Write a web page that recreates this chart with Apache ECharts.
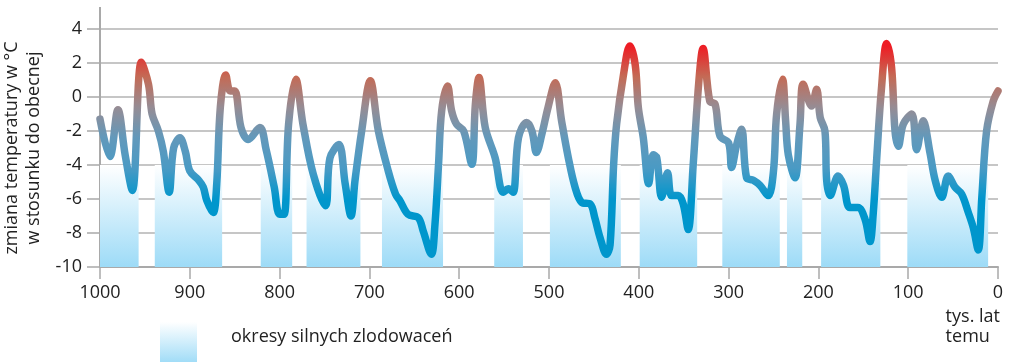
<!DOCTYPE html>
<html>
<head>
<meta charset="utf-8">
<script src="https://cdn.jsdelivr.net/npm/echarts@6/dist/echarts.min.js"></script>
<style>
  html, body { margin: 0; padding: 0; background: #ffffff; }
  #main { width: 1010px; height: 362px; }
</style>
</head>
<body>
<div id="main"></div>
<script>
// thousands of years ago
var years = [1000, 989, 980, 972, 964, 954, 946, 942, 935, 929.5, 923, 918, 911, 905, 900, 890, 885, 881, 874, 870,
    866, 860, 855, 850, 843, 835, 822, 815, 806, 800, 795, 790, 782, 774, 762.5, 749, 744, 734, 727, 720.5,
    716, 708.6, 699, 690, 679, 671, 666, 657, 645.5, 640, 631, 627, 623, 619.5, 613, 608.5, 603, 595, 586, 582,
    578, 571, 560, 551, 545, 540, 534, 525, 519, 514, 508, 501, 493, 486, 478.5, 471, 463.6, 454, 449, 443,
    436, 432, 428, 424.7, 417, 410, 404, 400.5, 395, 389, 384, 380, 374.6, 368, 363.5, 356, 350.5, 345, 339.4, 333,
    328.5, 321, 315, 309.6, 300, 296.7, 291, 285.5, 280, 272.5, 265, 256, 250, 246.5, 240, 236.5, 233.5, 226, 220.5, 217,
    207.6, 202, 198, 192.7, 190.8, 187, 178, 172, 165, 156, 148, 142.5, 139, 135, 130, 124, 118.5, 114.7, 111, 105.5,
    96, 90.6, 83.3, 75.7, 70, 62.7, 55.4, 48, 40.5, 33, 27.5, 22, 18, 12.7, 5.3, 0];

// temperature change vs. today, °C
var temps = [-1.3, -3.5, -0.75, -3.4, -5.5, 2.05, 0.75, -1.0, -2.0, -3.2, -5.6, -3.0, -2.4, -3.2, -4.35, -4.9, -5.3, -6.1, -6.8, -5.1,
    -0.6, 1.3, 0.35, 0.35, -1.8, -2.5, -1.8, -3.1, -5.3, -6.9, -6.9, -1.6, 1.05, -1.6, -4.55, -6.4, -3.6, -2.8, -5.1, -7.0,
    -4.9, -2.0, 0.95, -2.0, -4.35, -5.7, -6.1, -6.9, -7.1, -7.9, -9.25, -7.5, -3.96, -0.8, 0.65, -0.8, -1.6, -2.0, -3.96, -0.43,
    1.14, -1.8, -3.57, -5.6, -5.4, -5.6, -2.4, -1.5, -2.0, -3.27, -2.2, -0.6, 0.84, -1.4, -3.57, -5.3, -6.2, -6.3, -7.1, -8.3,
    -9.25, -8.7, -3.96, -1.6, 1.33, 3.0, 1.9, -0.63, -2.4, -5.1, -3.4, -3.57, -5.9, -4.45, -5.8, -5.8, -6.3, -7.8, -3.96, 1.0,
    2.85, -0.24, -0.43, -2.3, -2.7, -4.15, -2.8, -1.9, -4.75, -4.9, -5.2, -5.8, -4.35, -1.0, 1.05, -1.4, -3.4, -4.75, -1.6, 0.75,
    -0.53, 0.45, -1.2, -2.0, -4.9, -5.8, -4.65, -5.2, -6.5, -6.5, -7.2, -8.5, -6.9, -3.57, 0.35, 3.15, 1.73, -2.0, -2.9, -1.6,
    -1.0, -3.1, -1.4, -3.3, -4.9, -5.9, -4.65, -5.3, -5.7, -6.8, -7.7, -9.0, -5.9, -2.0, -0.24, 0.35];

// strong glaciation periods (start, end in thousands of years ago)
var glacialStart = [1000, 939, 821, 770, 686, 561, 499, 399, 307, 235, 197, 101];
var glacialEnd   = [957, 864, 786, 710, 618, 529, 420, 335, 243, 218, 131, 11];

var axisName = 'zmiana temperatury w °C\nw stosunku do obecnej';
var xName = 'tys. lat\ntemu';
var legendText = 'okresy silnych zlodowaceń';

function drawChart() {
    var myChart = echarts.init(document.getElementById('main'));

    var lineData = [];
    for (var i = 0; i < years.length; i++) {
        lineData.push([years[i], temps[i]]);
    }

    var bands = [];
    for (var j = 0; j < glacialStart.length; j++) {
        bands.push([
            { xAxis: glacialStart[j], yAxis: -4 },
            { xAxis: glacialEnd[j], yAxis: -10 }
        ]);
    }

    var font = 'Open Sans';
    var axisGray = '#a9a9a9';

    var option = {
        animation: false,
        textStyle: { fontFamily: font },
        grid: {
            left: 100,
            right: 12,
            top: 29,
            bottom: 95,
            containLabel: false,
            outerBoundsMode: 'none'
        },
        xAxis: {
            type: 'value',
            min: 0,
            max: 1000,
            interval: 100,
            inverse: true,
            axisLine: { show: true, onZero: false, lineStyle: { color: axisGray, width: 2 } },
            axisTick: { show: true, length: 12, lineStyle: { color: axisGray, width: 1.5 } },
            axisLabel: {
                color: '#222', fontSize: 18, margin: 17, fontFamily: font,
                formatter: function (v) { return String(v); }
            },
            splitLine: { show: false }
        },
        yAxis: {
            type: 'value',
            min: -10,
            max: 4,
            interval: 2,
            name: axisName,
            nameLocation: 'middle',
            nameRotate: 90,
            nameGap: 50,
            nameTextStyle: { color: '#222', fontSize: 18, lineHeight: 22, fontFamily: font },
            axisLine: { show: true, onZero: false, lineStyle: { color: axisGray, width: 2 } },
            axisTick: { show: true, length: 13, lineStyle: { color: axisGray, width: 1.5 } },
            axisLabel: { color: '#222', fontSize: 18, margin: 18, fontFamily: font },
            splitLine: { show: true, lineStyle: { color: '#b3b3b3', width: 1.5 } }
        },
        visualMap: {
            show: false,
            type: 'continuous',
            seriesIndex: 1,
            dimension: 1,
            min: -6,
            max: 3,
            inRange: {
                color: ['#0096cc', '#4a9ac4', '#6299bb', '#968c94', '#c46a55', '#ee1c24']
            }
        },
        series: [
            {
                name: 'zlodowacenia',
                type: 'line',
                z: 1,
                silent: true,
                data: [],
                markArea: {
                    silent: true,
                    itemStyle: {
                        color: new echarts.graphic.LinearGradient(0, 0, 0, 1, [
                            { offset: 0, color: '#ffffff' },
                            { offset: 1, color: '#9ddbf7' }
                        ])
                    },
                    data: bands
                }
            },
            {
                name: 'temperatura',
                type: 'line',
                z: 3,
                smooth: 0.35,
                showSymbol: false,
                silent: true,
                lineStyle: { width: 7.5, cap: 'round', join: 'round' },
                data: lineData
            }
        ],
        graphic: [
            // y axis line runs a bit above the last tick
            {
                type: 'line',
                shape: { x1: 100, y1: 7, x2: 100, y2: 30 },
                style: { stroke: axisGray, lineWidth: 2 }
            },
            {
                type: 'text',
                right: 10,
                top: 307,
                style: {
                    text: xName,
                    fill: '#222',
                    font: '18px "Open Sans"',
                    align: 'right',
                    lineHeight: 20
                }
            },
            {
                type: 'rect',
                left: 160,
                top: 322,
                shape: { width: 37, height: 42 },
                style: {
                    fill: new echarts.graphic.LinearGradient(0, 0, 0, 1, [
                        { offset: 0, color: '#ffffff' },
                        { offset: 1, color: '#9ddbf7' }
                    ])
                }
            },
            {
                type: 'text',
                left: 231,
                top: 328,
                style: {
                    text: legendText,
                    fill: '#222',
                    font: '18px "Open Sans"'
                }
            }
        ]
    };

    myChart.setOption(option);
}

drawChart();
</script>
</body>
</html>
